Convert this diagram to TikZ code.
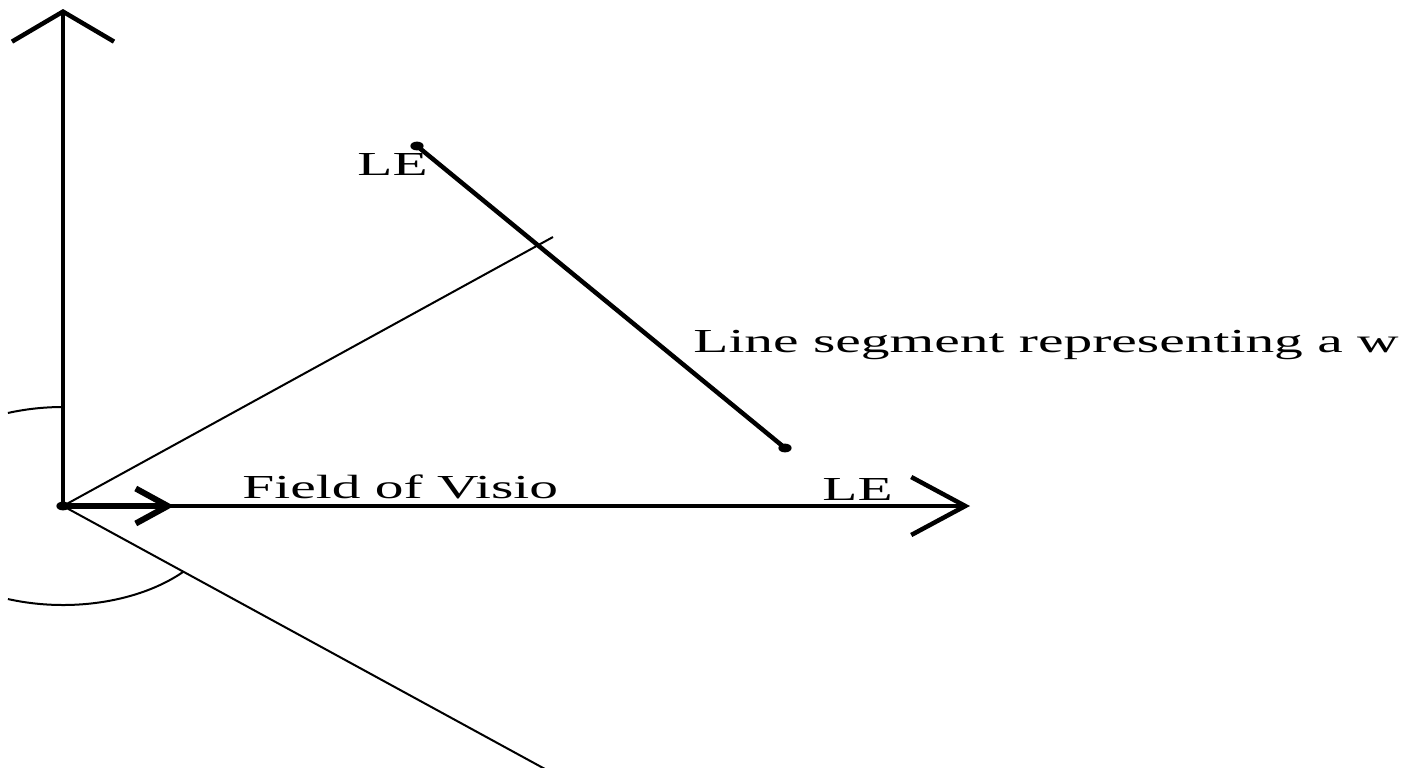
\documentclass[tikz,border=0pt]{standalone}
\usepackage{graphicx}
\usepackage{fontspec}
\setmainfont{Liberation Serif}
\usetikzlibrary{arrows.meta}
\tikzset{axis/.style={line width=2.25pt}}
\tikzset{heading/.style={line width=3pt}}
\tikzset{fov/.style={line width=1pt}}
\tikzset{wall/.style={line width=2.25pt}}
\tikzset{lbl/.style={inner sep=0pt,anchor=base west,font=\fontsize{16.8}{20}\selectfont}}
\newcommand{\wide}[1]{\scalebox{1.71}[1]{#1}}

\begin{document}
\begin{tikzpicture}[x=0.5pt,y=-0.5pt]
\useasboundingbox (0,0) rectangle (1408,767);
\coordinate (O) at (63,506);
\coordinate (ytip) at (63,9);
\coordinate (xtip) at (970,506);
\coordinate (dir) at (174,506);
\coordinate (wallA) at (417,146);
\coordinate (wallB) at (785,448);
\coordinate (fovUp) at (553,237);
\coordinate (fovDown) at (545,769);
\draw[fov] (O) -- (fovUp);
\draw[fov] (O) -- (fovDown);
\draw[fov] plot[domain=90:110,samples=30,smooth] ({63+161*cos(\x)},{506-99*sin(\x)});
\draw[fov] plot[domain=41.8:110,samples=60,smooth] ({63+161*cos(\x)},{506+99*sin(\x)});
\draw[axis,-{Straight Barb[length=15pt,width=51pt]}] (O) -- (ytip);
\draw[axis,-{Straight Barb[length=27pt,width=29pt]}] (O) -- (xtip);
\draw[heading,-{Straight Barb[length=16pt,width=17.5pt]}] (O) -- (dir);
\draw[wall] (wallA) -- (wallB);
\fill (O) ellipse [x radius=3.3pt,y radius=2.2pt];
\fill (wallA) ellipse [x radius=3.3pt,y radius=2.2pt];
\fill (wallB) ellipse [x radius=3.3pt,y radius=2.2pt];
\node[lbl] (leA) at (357,175) {\wide{LE}};
\node[lbl] (leB) at (822,500) {\wide{LE}};
\node[lbl] (wallText) at (693,352) {\wide{Line segment representing a w}};
\node[lbl] (fovText) at (242,498) {\wide{Field of Visio}};
\end{tikzpicture}
\end{document}
